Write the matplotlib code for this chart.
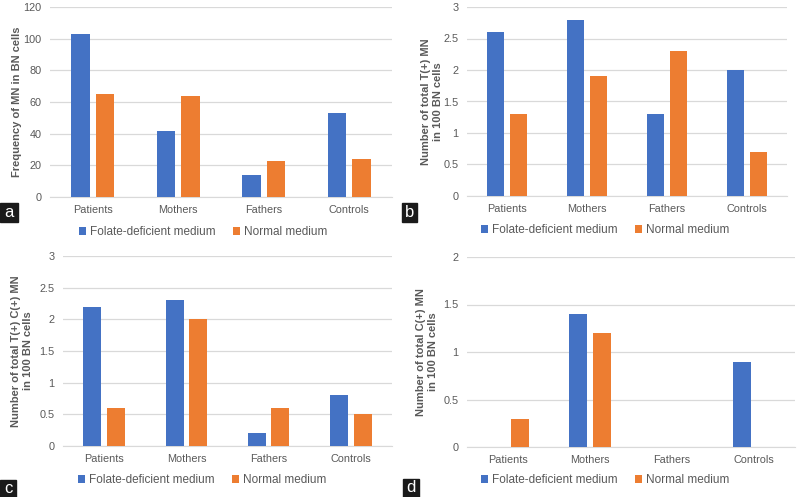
import numpy as np
import matplotlib.pyplot as plt

plt.rcParams['font.family'] = ['Liberation Sans', 'DejaVu Sans']

groups = ['Patients', 'Mothers', 'Fathers', 'Controls']
series_names = ['Folate-deficient medium', 'Normal medium']

a_folate = [103, 42, 14, 53]
a_normal = [65, 64, 23, 24]
b_folate = [2.6, 2.8, 1.3, 2.0]
b_normal = [1.3, 1.9, 2.3, 0.7]
c_folate = [2.2, 2.3, 0.2, 0.8]
c_normal = [0.6, 2.0, 0.6, 0.5]
d_folate = [0, 1.4, 0, 0.9]
d_normal = [0.3, 1.2, 0, 0]

blue = '#4472C4'
orange = '#ED7D31'
grey = '#595959'
W, H = 798, 497

fig = plt.figure(figsize=(W / 100, H / 100), dpi=100)


def px_axes(left, top, right, bottom):
    return fig.add_axes([left / W, 1 - bottom / H, (right - left) / W, (bottom - top) / H])


def panel(box, folate, normal, ymax, ystep, ylabel, ylab_x, leg_xy, letter, letter_box):
    ax = px_axes(*box)
    x = np.arange(len(groups))
    ax.bar(x - 0.143, folate, 0.22, color=blue, label=series_names[0], zorder=3)
    ax.bar(x + 0.143, normal, 0.22, color=orange, label=series_names[1], zorder=3)
    ax.set_xlim(-0.5, 3.5)
    ax.set_ylim(0, ymax)
    ticks = np.arange(0, ymax + ystep / 2, ystep)
    ax.set_yticks(ticks)
    ax.set_yticklabels(['%g' % t for t in ticks])
    ax.set_xticks(x)
    ax.set_xticklabels(groups)
    ax.yaxis.grid(True, color='#D9D9D9', linewidth=0.9, zorder=0)
    for s in ['top', 'right', 'left']:
        ax.spines[s].set_visible(False)
    ax.spines['bottom'].set_color('#D9D9D9')
    ax.tick_params(length=0, labelsize=7.8, labelcolor=grey, pad=6)
    fig.text(ylab_x / W, 1 - (box[1] + box[3]) / 2 / H, ylabel, rotation=90,
             ha='center', va='center', fontsize=8, fontweight='bold', color=grey,
             linespacing=1.3)
    leg = fig.legend(*ax.get_legend_handles_labels(), loc='center',
                     bbox_to_anchor=(leg_xy[0] / W, 1 - leg_xy[1] / H), ncol=2,
                     frameon=False, fontsize=8.5, handlelength=0.6, handleheight=0.6,
                     handletextpad=0.3, columnspacing=1.5)
    for t in leg.get_texts():
        t.set_color(grey)
    l, t_, r, b = letter_box
    fig.patches.append(plt.Rectangle((l / W, 1 - b / H), (r - l) / W, (b - t_) / H,
                                     transform=fig.transFigure, color='#1a1a1a'))
    fig.text((l + r) / 2 / W, 1 - (t_ + b) / 2 / H, letter, color='white',
             ha='center', va='center', fontsize=12)


panel((50, 7, 392, 197), a_folate, a_normal, 120, 20,
      'Frequency of MN in BN cells', 17, (203, 232), 'a', (0, 203, 18, 222))
panel((467, 7, 787, 196), b_folate, b_normal, 3, 0.5,
      'Number of total T(+) MN\nin 100 BN cells', 432, (605, 230), 'b', (402, 203, 417, 222))
panel((63, 256, 392, 446), c_folate, c_normal, 3, 0.5,
      'Number of total T(+) C(+) MN\nin 100 BN cells', 22, (202, 480), 'c', (0, 480, 16, 497))
panel((467, 257, 795, 447), d_folate, d_normal, 2, 0.5,
      'Number of total C(+) MN\nin 100 BN cells', 427, (605, 480), 'd', (403, 479, 419, 497))

fig.savefig('out.png', dpi=100)
